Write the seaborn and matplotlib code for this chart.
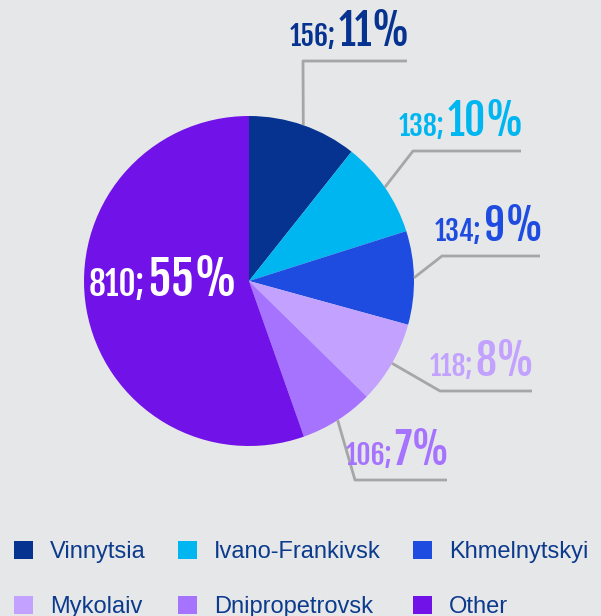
import matplotlib
matplotlib.use("Agg")
import numpy as np
import matplotlib.pyplot as plt
from matplotlib.patches import Patch
from matplotlib.offsetbox import TextArea, HPacker, AnnotationBbox
import seaborn as sns

# Data
regions = ["Vinnytsia", "Ivano-Frankivsk", "Khmelnytskyi", "Mykolaiv", "Dnipropetrovsk", "Other"]
counts = [156, 138, 134, 118, 106, 810]
shares = ["11%", "10%", "9%", "8%", "7%", "55%"]
colors = ["#05338f", "#00b6f0", "#1f4ce0", "#c3a2ff", "#a673fe", "#7112e8"]

W, H = 601, 616
BG = "#e6e7e9"

sns.set_theme(style="white", rc={"figure.facecolor": BG, "axes.facecolor": BG})
num_font = ["Fjalla One", "Oswald", "DejaVu Sans"]
leg_font = ["Liberation Sans", "DejaVu Sans"]
plt.rcParams["font.family"] = num_font

fig = plt.figure(figsize=(W / 100, H / 100), dpi=100)
ax = fig.add_axes([0, 0, 1, 1])

# pie centre / radius in pixels (y from bottom)
cx, cy, r = 249, H - 281, 165
wedges, _ = ax.pie(counts, colors=colors, startangle=90, counterclock=False,
                   center=(cx, cy), radius=r, wedgeprops=dict(linewidth=0))
ax.set_xlim(0, W)
ax.set_ylim(0, H)
ax.set_aspect("equal")
ax.axis("off")

# leader line elbows and end x (pixels from top-left)
elbows = [(303, 61), (413, 151), (442, 256), (440, 391), (355, 480)]
ends = [407, 521, 540, 532, 447]

for i, w in enumerate(wedges[:5]):
    ang = np.deg2rad((w.theta1 + w.theta2) / 2)
    sx, sy = cx + r * np.cos(ang), cy + r * np.sin(ang)
    ex, ey = elbows[i][0], H - elbows[i][1]
    ax.plot([sx, ex, ends[i]], [sy, ey, ey], color="#a6a6a6", lw=2, solid_capstyle="butt")
    small = TextArea(f"{counts[i]};", textprops=dict(color=colors[i], fontsize=20))
    big = TextArea(shares[i], textprops=dict(color=colors[i], fontsize=30))
    box = HPacker(children=[small, big], align="baseline", pad=0, sep=2)
    ax.add_artist(AnnotationBbox(box, (ends[i] + 3, ey + 6), box_alignment=(1, 0),
                                 frameon=False, pad=0))

# label inside the big slice
small = TextArea(f"{counts[5]};", textprops=dict(color="white", fontsize=24))
big = TextArea(shares[5], textprops=dict(color="white", fontsize=34))
box = HPacker(children=[small, big], align="baseline", pad=0, sep=2)
ax.add_artist(AnnotationBbox(box, (163, H - 280), box_alignment=(0.5, 0.5), frameon=False, pad=0))

# legend in row-major order
order = [0, 3, 1, 4, 2, 5]
handles = [Patch(facecolor=colors[k], edgecolor="none", label=regions[k]) for k in order]
fig.legend(handles=handles, ncol=3, loc="upper left", bbox_to_anchor=(14 / W, 1 - 541 / H),
           frameon=False, prop={"family": leg_font, "size": 17},
           labelcolor="#0c3a8c", handlelength=0.79, handleheight=0.79, handletextpad=0.75,
           columnspacing=1.35, labelspacing=1.38, borderpad=0, borderaxespad=0)

fig.savefig("out.png", dpi=100, facecolor=BG)
